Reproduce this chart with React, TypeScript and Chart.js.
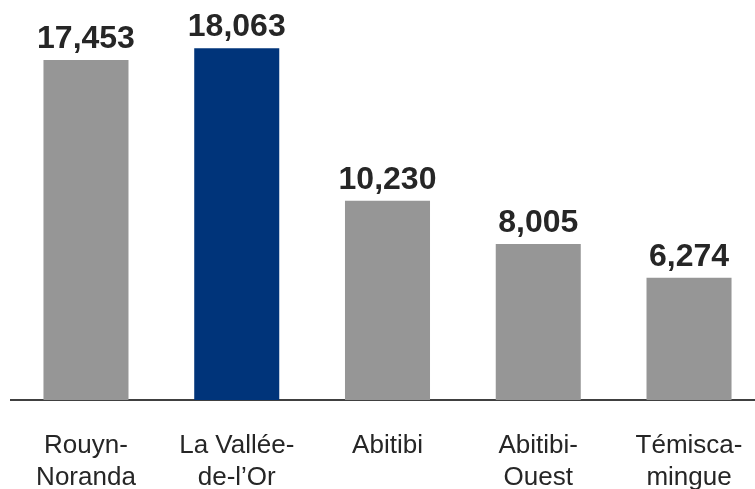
import React, { useEffect, useRef } from "react";
import { Chart, registerables } from "chart.js";

Chart.register(...registerables);

const categories: string[][] = [
  ["Rouyn-", "Noranda"],
  ["La Vallée-", "de-l’Or"],
  ["Abitibi"],
  ["Abitibi-", "Ouest"],
  ["Témisca-", "mingue"],
];
const values: number[] = [17453, 18063, 10230, 8005, 6274];
const barColors: string[] = ["#969696", "#00347a", "#969696", "#969696", "#969696"];

const valueLabels = {
  id: "valueLabels",
  afterDatasetsDraw(chart: any) {
    const ctx = chart.ctx;
    const meta = chart.getDatasetMeta(0);
    ctx.save();
    ctx.font = "bold 32px 'Liberation Sans', Arial, sans-serif";
    ctx.fillStyle = "#262626";
    ctx.textAlign = "center";
    ctx.textBaseline = "alphabetic";
    meta.data.forEach((bar: any, i: number) => {
      const v = chart.data.datasets[0].data[i] as number;
      ctx.fillText(v.toLocaleString("en-US"), bar.x, bar.y - 12);
    });
    ctx.restore();
  },
};

export default function App() {
  const ref = useRef<HTMLCanvasElement>(null);
  useEffect(() => {
    if (!ref.current) return;
    const chart = new Chart(ref.current, {
      type: "bar",
      data: {
        labels: categories,
        datasets: [
          {
            data: values,
            backgroundColor: barColors,
            categoryPercentage: 1,
            barPercentage: 0.564,
          },
        ],
      },
      options: {
        animation: false,
        responsive: false,
        devicePixelRatio: 1,
        layout: { padding: { top: 2.4, left: 2.6, right: 1.6, bottom: 0 } },
        plugins: { legend: { display: false }, tooltip: { enabled: false } },
        scales: {
          y: { display: false, min: 0, max: 20000 },
          x: {
            grid: { display: false },
            border: { display: true, color: "#404040", width: 2 },
            ticks: {
              color: "#262626",
              padding: 22,
              maxRotation: 0,
              font: { family: "'Liberation Sans', Arial, sans-serif", size: 26, lineHeight: 1.23 },
            },
            afterFit: (scale: any) => {
              scale.height = 89;
            },
          },
        },
      },
      plugins: [valueLabels],
    });
    return () => chart.destroy();
  }, []);
  return (
    <div style={{ width: 747, height: 481, overflow: "hidden", position: "fixed", left: 8, top: 8 }}>
      <canvas
        ref={ref}
        width={758}
        height={481}
        style={{ width: 758, height: 481, position: "absolute", left: 0, top: 0, display: "block" }}
      />
    </div>
  );
}
